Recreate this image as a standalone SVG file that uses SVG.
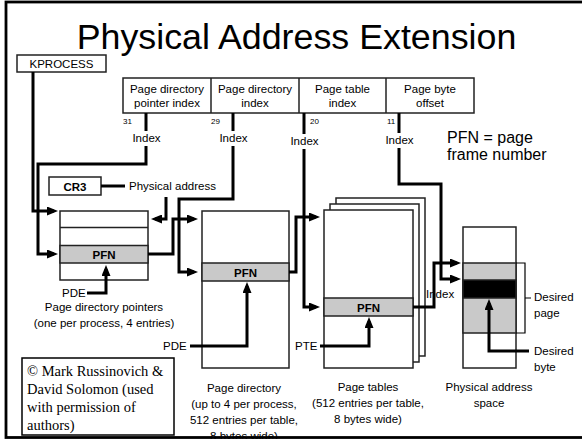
<svg xmlns="http://www.w3.org/2000/svg" width="582" height="439" viewBox="0 0 582 439">
  <style>
    text { font-family: "Liberation Sans", Arial, sans-serif; fill: #000; }
    .lbl { font-size: 11.5px; }
    .mid { text-anchor: middle; }
    .bold { font-weight: bold; }
    .bit { font-size: 8px; }
    .box { fill: #fff; stroke: #222; stroke-width: 1.5; }
    .grey { fill: #c9c9c9; stroke: #222; stroke-width: 1.5; }
    .blk { fill: #000; stroke: #222; stroke-width: 1.5; }
    .wire { fill: none; stroke: #000; stroke-width: 3; stroke-linejoin: miter; }
    .thin { fill: none; stroke: #000; stroke-width: 1.2; }
    .serif { font-family: "Liberation Serif", "Times New Roman", serif; font-size: 14.5px; }
  </style>
  <defs>
    <marker id="arrow" markerUnits="userSpaceOnUse" markerWidth="11" markerHeight="9" refX="7" refY="4.5" orient="auto">
      <path d="M0,0 L11,4.5 L0,9 Z" fill="#000"/>
    </marker>
  </defs>

  <rect width="582" height="439" fill="#fff"/>
  <!-- slide frame -->
  <rect x="6" y="2" width="590" height="435.5" fill="none" stroke="#000" stroke-width="2.8"/>

  <text id="title" x="296.5" y="48.5" class="mid" font-size="35.8">Physical Address Extension</text>

  <g id="kprocess">
    <rect x="17" y="55" width="89" height="17" class="box"/>
    <text x="61.5" y="68" class="lbl mid">KPROCESS</text>
  </g>

  <g id="virtual-address">
    <rect x="123" y="78" width="351" height="35" class="box"/>
    <line x1="211" y1="78" x2="211" y2="113" stroke="#222" stroke-width="1.5"/>
    <line x1="299" y1="78" x2="299" y2="113" stroke="#222" stroke-width="1.5"/>
    <line x1="386" y1="78" x2="386" y2="113" stroke="#222" stroke-width="1.5"/>
    <text class="lbl mid"><tspan x="167" y="92.5">Page directory</tspan><tspan x="167" y="107">pointer index</tspan></text>
    <text class="lbl mid"><tspan x="255" y="92.5">Page directory</tspan><tspan x="255" y="107">index</tspan></text>
    <text class="lbl mid"><tspan x="342.5" y="92.5">Page table</tspan><tspan x="342.5" y="107">index</tspan></text>
    <text class="lbl mid"><tspan x="430" y="92.5">Page byte</tspan><tspan x="430" y="107">offset</tspan></text>
    <text x="123" y="124" class="bit">31</text>
    <text x="211" y="124" class="bit">29</text>
    <text x="310" y="124" class="bit">20</text>
    <text x="387" y="124" class="bit">11</text>
  </g>

  <g id="cr3">
    <rect x="49" y="177" width="52" height="18" class="box"/>
    <text x="75" y="190.5" class="lbl mid bold">CR3</text>
    <text x="129" y="189.5" class="lbl">Physical address</text>
  </g>

  <g id="page-directory-pointers">
    <rect x="60" y="211" width="88" height="69" class="box"/>
    <line x1="60" y1="227.5" x2="148" y2="227.5" stroke="#222" stroke-width="1.5"/>
    <rect x="60" y="245.5" width="88" height="17.5" class="grey"/>
    <text x="104" y="258.5" class="lbl mid bold">PFN</text>
    <text x="62" y="297" class="lbl">PDE</text>
    <text class="lbl mid"><tspan x="104" y="311">Page directory pointers</tspan><tspan x="104" y="327">(one per process, 4 entries)</tspan></text>
  </g>

  <g id="page-directory">
    <rect x="202" y="211" width="87" height="157" class="box"/>
    <rect x="202" y="263" width="87" height="18" class="grey"/>
    <text x="245.5" y="276.5" class="lbl mid bold">PFN</text>
    <text x="163" y="350" class="lbl">PDE</text>
    <text class="lbl mid"><tspan x="244" y="392">Page directory</tspan><tspan x="244" y="408">(up to 4 per process,</tspan><tspan x="244" y="424">512 entries per table,</tspan><tspan x="244" y="440">8 bytes wide)</tspan></text>
  </g>

  <g id="page-tables">
    <rect x="336" y="198" width="89" height="158" class="box"/>
    <rect x="330" y="204" width="89" height="158" class="box"/>
    <rect x="324" y="210" width="89" height="158" class="box"/>
    <rect x="324" y="298" width="89" height="18" class="grey"/>
    <text x="368.5" y="311.5" class="lbl mid bold">PFN</text>
    <text x="295" y="350" class="lbl">PTE</text>
    <text class="lbl mid"><tspan x="368" y="391">Page tables</tspan><tspan x="368" y="407">(512 entries per table,</tspan><tspan x="368" y="423">8 bytes wide)</tspan></text>
  </g>

  <g id="physical-address-space">
    <rect x="463" y="227" width="53" height="141" class="box"/>
    <rect x="463" y="263" width="53" height="70" class="grey"/>
    <rect x="463" y="280" width="53" height="18" class="blk"/>
    <path class="thin" d="M516,263 H525 V333 H516 M525,298 H531"/>
    <text x="426" y="298" class="lbl">Index</text>
    <text class="lbl"><tspan x="534" y="301">Desired</tspan><tspan x="534" y="317">page</tspan></text>
    <text class="lbl"><tspan x="534" y="355">Desired</tspan><tspan x="534" y="371">byte</tspan></text>
    <text class="lbl mid"><tspan x="489" y="391">Physical address</tspan><tspan x="489" y="407">space</tspan></text>
  </g>

  <g id="legend">
    <text font-size="16"><tspan x="447" y="143">PFN = page</tspan><tspan x="447" y="160">frame number</tspan></text>
  </g>

  <g id="copyright">
    <rect x="22" y="358" width="152" height="77" fill="#fff" stroke="#000" stroke-width="1.5"/>
    <text class="serif"><tspan x="27" y="376">© Mark Russinovich &amp;</tspan><tspan x="27" y="394">David Solomon (used</tspan><tspan x="27" y="412">with permission of</tspan><tspan x="27" y="429.5">authors)</tspan></text>
  </g>

  <!-- connectors, drawn over the tables -->
  <g id="connectors">
    <path class="wire" d="M33,72 V211 H54" marker-end="url(#arrow)"/>
    <path class="wire" d="M146,113 V164 H38 V254 H54" marker-end="url(#arrow)"/>
    <path class="wire" d="M166,197 V219 H155" marker-end="url(#arrow)"/>
    <path class="wire" d="M148,254 H173 V219 H194" marker-end="url(#arrow)"/>
    <path class="wire" d="M233,113 V199 H179 V272 H194" marker-end="url(#arrow)"/>
    <path class="wire" d="M87,293 H106 V269" marker-end="url(#arrow)"/>
    <path class="wire" d="M289,272 H296 V217 H316" marker-end="url(#arrow)"/>
    <path class="wire" d="M304,113 V307 H316" marker-end="url(#arrow)"/>
    <path class="wire" d="M190,346 H247 V286" marker-end="url(#arrow)"/>
    <path class="wire" d="M320,346 H369 V321" marker-end="url(#arrow)"/>
    <path class="wire" d="M413,307 H434 V263 H457" marker-end="url(#arrow)"/>
    <path class="wire" d="M399,113 V184 H441 V279 H457" marker-end="url(#arrow)"/>
    <path class="wire" d="M529,351 H489 V303" marker-end="url(#arrow)"/>
    <path class="wire" d="M101,186 H125"/>
    <!-- index labels sit on the wires -->
    <g id="index-labels" class="lbl">
      <rect x="131" y="131" width="31" height="15" fill="#fff"/>
      <text x="146.5" y="142" class="mid">Index</text>
      <rect x="218" y="131" width="31" height="15" fill="#fff"/>
      <text x="233.5" y="142" class="mid">Index</text>
      <rect x="289" y="134" width="31" height="15" fill="#fff"/>
      <text x="304.5" y="145" class="mid">Index</text>
      <rect x="384" y="133" width="31" height="15" fill="#fff"/>
      <text x="399.5" y="144" class="mid">Index</text>
    </g>
  </g>
</svg>
